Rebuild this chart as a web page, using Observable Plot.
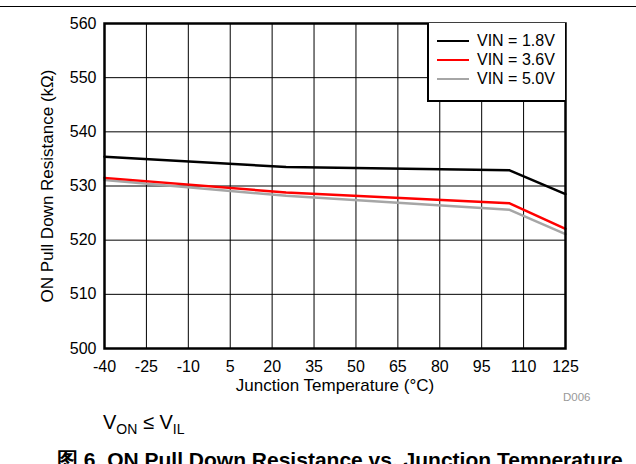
<!DOCTYPE html>
<html>
<head>
<meta charset="utf-8">
<script src="https://cdn.jsdelivr.net/npm/d3@7"></script>
<script src="https://cdn.jsdelivr.net/npm/@observablehq/plot@0.6"></script>
<style>
  html, body { margin: 0; padding: 0; background: #fff; }
  body { width: 636px; height: 464px; position: relative; overflow: hidden; font-family: "Liberation Sans", Arial, sans-serif; }
  #topline { position: absolute; left: 0; top: 6px; width: 636px; height: 0; border-top: 1.5px solid #000; }
  #chart { position: absolute; left: 0; top: 0; }
  #legend { position: absolute; left: 427px; top: 23px; width: 136px; height: 77px; background: #fff; border: 2px solid #000; border-top: none; border-right: none; box-sizing: content-box; }
  .row { position: absolute; left: 8px; height: 18px; font-size: 16px; line-height: 18px; color: #000; white-space: nowrap; }
  .row .sw { display: inline-block; width: 32px; height: 0; border-top: 2.5px solid; vertical-align: middle; margin-right: 8px; position: relative; top: -1px; }
  #d006 { position: absolute; left: 563px; top: 391px; font-size: 11.5px; color: #999; }
  #cond { position: absolute; left: 103px; top: 411px; font-size: 20px; color: #000; }
  #cond sub { font-size: 14px; vertical-align: -5px; }
  #caption { position: absolute; left: 57px; top: 446px; font-size: 21px; font-weight: bold; color: #000; white-space: nowrap; }
</style>
</head>
<body>
<div id="topline"></div>
<div id="chart"></div>
<div id="legend"></div>
<div id="d006">D006</div>
<div id="cond">V<sub>ON</sub> ≤ V<sub>IL</sub></div>
<div id="caption">图 6. ON Pull Down Resistance vs. Junction Temperature</div>
<script>
// ---- data ----
const temperatures = [-40, 25, 105, 125];
const vin18 = [535.4, 533.5, 532.9, 528.5];
const vin36 = [531.5, 528.8, 526.8, 522.1];
const vin50 = [531.1, 528.2, 525.6, 521.1];
const seriesNames = ["VIN = 1.8V", "VIN = 3.6V", "VIN = 5.0V"];
const seriesColors = ["#000000", "#ff0000", "#a6a6a6"];
const xTicks = [-40, -25, -10, 5, 20, 35, 50, 65, 80, 95, 110, 125];
const yTicks = [500, 510, 520, 530, 540, 550, 560];

const seriesValues = [vin18, vin36, vin50];
const rows = [];
seriesNames.forEach((name, i) => {
  temperatures.forEach((t, j) => rows.push({series: name, t, r: seriesValues[i][j]}));
});
// draw order: gray, red, black
const order = [2, 1, 0];

const marks = [
  Plot.gridX(xTicks, {stroke: "#000", strokeOpacity: 1, strokeWidth: 1}),
  Plot.gridY(yTicks, {stroke: "#000", strokeOpacity: 1, strokeWidth: 1}),
  ...order.map(i => Plot.line(rows.filter(d => d.series === seriesNames[i]), {
    x: "t", y: "r", stroke: seriesColors[i], strokeWidth: 2.5, strokeLinejoin: "miter"
  })),
  Plot.frame({stroke: "#000", strokeWidth: 2.5}),
  Plot.axisX({ticks: xTicks, tickSize: 0, tickPadding: 12, fontSize: 16, tickFormat: d => String(d),
    label: null}),
  Plot.axisX({ticks: [], tickSize: 0, fontSize: 17,
    label: "Junction Temperature (°C)", labelAnchor: "center", labelArrow: "none", labelOffset: 42}),
  Plot.axisY({ticks: yTicks, tickSize: 0, tickPadding: 8, fontSize: 16, tickFormat: d => String(d),
    label: null}),
  Plot.axisY({ticks: [], tickSize: 0, fontSize: 17,
    label: "ON Pull Down Resistance (kΩ)", labelAnchor: "center", labelArrow: "none", labelOffset: 64})
];

const chart = Plot.plot({
  width: 636,
  height: 464,
  marginLeft: 104,
  marginRight: 71,
  marginTop: 23,
  marginBottom: 116,
  style: {fontFamily: "'Liberation Sans', Arial, sans-serif", fontSize: "16px", color: "#000", background: "transparent"},
  x: {domain: [-40, 125]},
  y: {domain: [500, 560]},
  marks
});
document.getElementById("chart").appendChild(chart);

// legend
const legend = document.getElementById("legend");
seriesNames.forEach((name, i) => {
  const row = document.createElement("div");
  row.className = "row";
  row.style.top = (9 + i * 19) + "px";
  const sw = document.createElement("span");
  sw.className = "sw";
  sw.style.borderTopColor = seriesColors[i];
  row.appendChild(sw);
  row.appendChild(document.createTextNode(name));
  legend.appendChild(row);
});
</script>
</body>
</html>
